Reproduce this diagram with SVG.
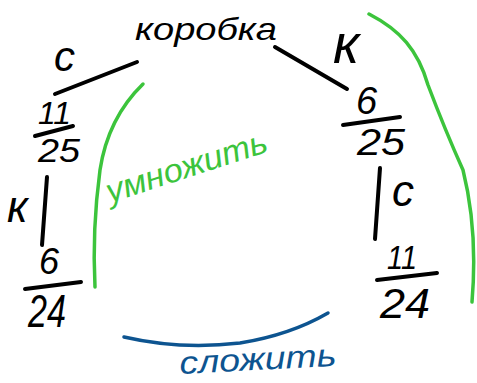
<svg xmlns="http://www.w3.org/2000/svg" width="477" height="383" viewBox="0 0 477 383">
  <style>
    .ink { font-family: "Liberation Sans", "DejaVu Sans", sans-serif; font-style: italic; fill: #000; }
    .stroke { fill: none; stroke: #000; stroke-width: 4; stroke-linecap: round; }
    .green { fill: none; stroke: #3cc43c; stroke-width: 3.5; stroke-linecap: round; }
    .blue { fill: none; stroke: #0d5490; stroke-width: 3.5; stroke-linecap: round; }
  </style>
  <rect width="477" height="383" fill="#fff"/>

  <!-- connectors between the states -->
  <g id="connectors">
    <path class="stroke" d="M55,94 L137,62"/>
    <path class="stroke" d="M275,47 L347,89"/>
    <path class="stroke" d="M47,177 L42,245"/>
    <path class="stroke" d="M380,168 L375,239"/>
    <path class="green" d="M143,84 Q108,118 100,170 Q92,230 95,287"/>
    <path class="green" d="M369,14 C400,30 418,50 428,85 Q445,130 463,170 Q478,230 472,302"/>
    <path class="blue" d="M124,337 Q180,350 240,343 Q290,335 328,313"/>
  </g>

  <!-- edge labels -->
  <g id="label-c-left"><text class="ink" x="54" y="71" font-size="42">с</text></g>
  <g id="label-k-left"><text class="ink" x="7" y="222" font-size="44">к</text></g>
  <g id="label-k-right"><text class="ink" x="333" y="63" font-size="56">к</text></g>
  <g id="label-c-right"><text class="ink" x="392" y="206" font-size="44">с</text></g>

  <!-- start node -->
  <g id="node-box"><text class="ink" x="135" y="40" font-size="32" textLength="142" lengthAdjust="spacingAndGlyphs">коробка</text></g>

  <!-- fraction nodes -->
  <g id="node-11-25">
    <text class="ink" x="38" y="124" font-size="32" textLength="33" lengthAdjust="spacingAndGlyphs">11</text>
    <path class="stroke" d="M35,136 L73,126"/>
    <text class="ink" x="38" y="162" font-size="34" textLength="42" lengthAdjust="spacingAndGlyphs">25</text>
  </g>
  <g id="node-6-24">
    <text class="ink" x="39" y="274" font-size="36">6</text>
    <path class="stroke" d="M25,289 L81,282"/>
    <text class="ink" x="28" y="327" font-size="46" textLength="38" lengthAdjust="spacingAndGlyphs">24</text>
  </g>
  <g id="node-6-25">
    <text class="ink" x="356" y="114" font-size="38">6</text>
    <path class="stroke" d="M343,125 L400,117"/>
    <text class="ink" x="357" y="155" font-size="36" textLength="48" lengthAdjust="spacingAndGlyphs">25</text>
  </g>
  <g id="node-11-24">
    <text class="ink" x="387" y="269" font-size="34" textLength="30" lengthAdjust="spacingAndGlyphs">11</text>
    <path class="stroke" d="M377,280 L437,273"/>
    <text class="ink" x="380" y="318" font-size="42" textLength="50" lengthAdjust="spacingAndGlyphs">24</text>
  </g>

  <!-- operation labels -->
  <g id="label-multiply">
    <text x="110" y="203" font-size="33" font-family="Liberation Sans, sans-serif" font-style="italic" fill="#3cc43c" textLength="168" lengthAdjust="spacingAndGlyphs" transform="rotate(-18 110 203)">умножить</text>
  </g>
  <g id="label-add">
    <text x="180" y="374" font-size="32" font-family="Liberation Sans, sans-serif" font-style="italic" fill="#0d5490" textLength="157" lengthAdjust="spacingAndGlyphs" transform="rotate(-3 180 374)">сложить</text>
  </g>
</svg>
